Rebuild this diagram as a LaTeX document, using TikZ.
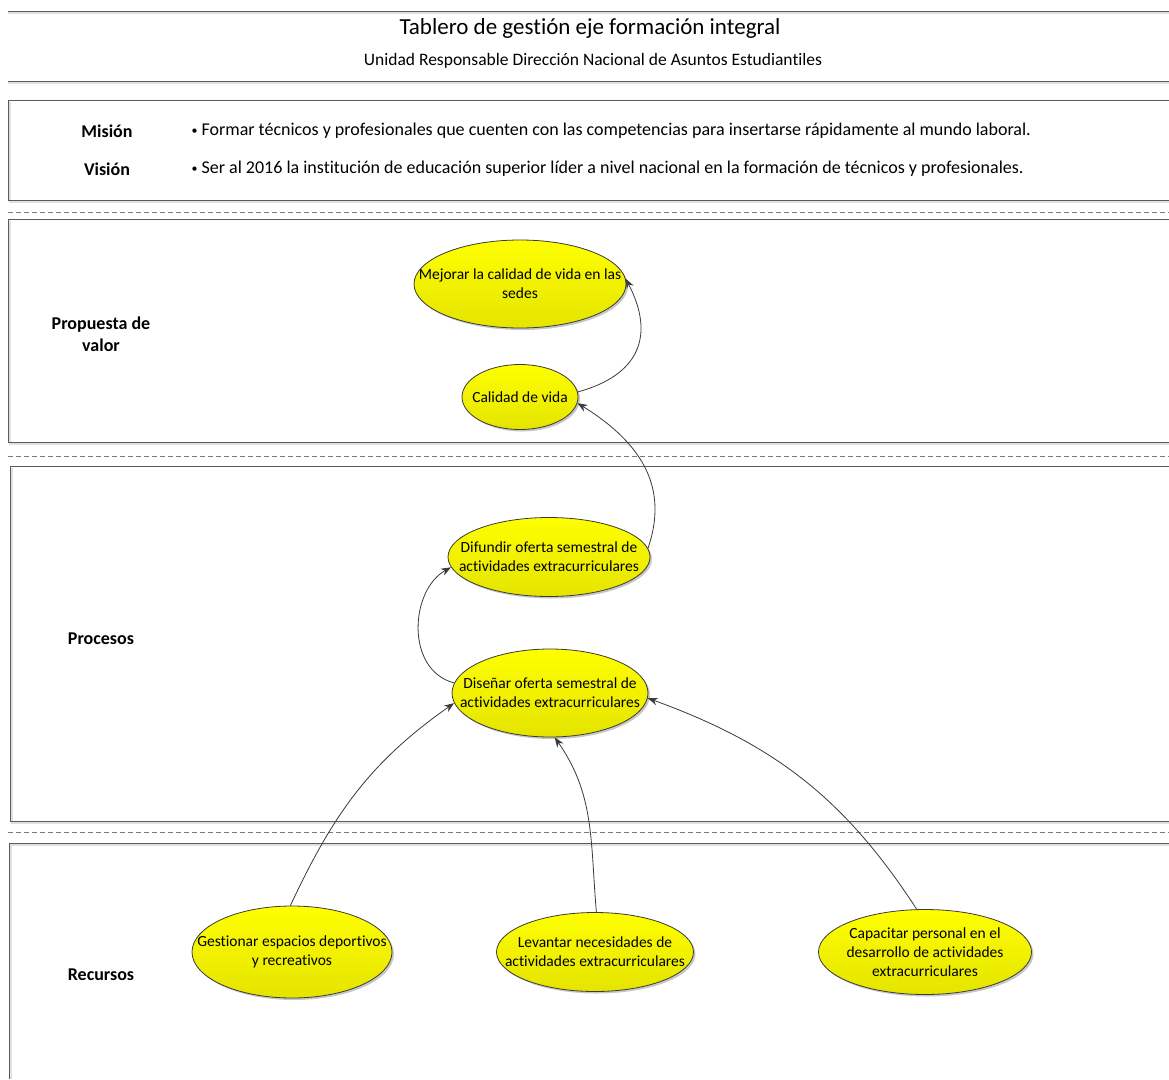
\documentclass[tikz,border=0pt]{standalone}
\usepackage{fontspec}
\setmainfont{Carlito}[Ligatures={NoCommon}]
\usetikzlibrary{shapes.geometric,arrows.meta,shadows}
\definecolor{rule}{HTML}{5A5A5A}
\definecolor{ink}{HTML}{3A3A3A}
\definecolor{ovaltop}{HTML}{FFFF00}
\definecolor{ovalbot}{HTML}{E4E400}
\newcommand{\smallbullet}{{\fontsize{12}{12}\selectfont\raisebox{1pt}{•}}}
\tikzset{
  oval/.style={ellipse, draw=ink, line width=0.8pt, top color=ovaltop, bottom color=ovalbot,
    inner sep=0pt,
    drop shadow={shadow xshift=2pt, shadow yshift=-2pt, opacity=0.22, fill=black}},
  ovaltext/.style={align=center, inner sep=0pt, font=\fontsize{15.5}{19}\selectfont},
  lane/.style={draw=rule, line width=1pt},
  lanebg/.style={draw=black!12, line width=1.2pt},
  sep/.style={draw=rule!80, line width=1pt, dash pattern=on 5pt off 3pt},
  flow/.style={draw=ink, line width=0.8pt, -{Stealth[length=10pt,width=7.5pt]}},
  tag/.style={font=\fontsize{18}{22}\selectfont\bfseries, align=center},
  line/.style={font=\fontsize{18}{22}\selectfont, anchor=west}
}
\begin{document}
\begin{tikzpicture}[x=1pt,y=-1pt]
\useasboundingbox (0,0) rectangle (1169,1079);
\fill[white] (0,0) rectangle (1169,1079);

% header rules and titles
\draw[lanebg] (8,13) -- (1169,13);
\draw[lane] (8,11) -- (1169,11);
\draw[lanebg] (8,83) -- (1169,83);
\draw[lane] (8,81) -- (1169,81);
\node[font=\fontsize{23}{26}\selectfont] (title) at (590,28) {Tablero de gestión eje formación integral};
\node[font=\fontsize{17.5}{20}\selectfont] (subtitle) at (593,61) {Unidad Responsable Dirección Nacional de Asuntos Estudiantiles};

% mission / vision band
\draw[lanebg] (1169,202) -- (10,202) -- (10,102);
\draw[lane] (1169,100) -- (8,100) -- (8,200) -- (1169,200);
\node[tag] (mision) at (107,131) {Misión};
\node[tag] (vision) at (107,169) {Visión};
\node[line] (mtext) at (188,131) {\smallbullet\ Formar técnicos y profesionales que cuenten con las competencias para insertarse rápidamente al mundo laboral.};
\node[line] (vtext) at (188,169) {\smallbullet\ Ser al 2016 la institución de educación superior líder a nivel nacional en la formación de técnicos y profesionales.};

\draw[sep] (8,212) -- (1169,212);

% value proposition band
\draw[lanebg] (1169,444) -- (10,444) -- (10,221);
\draw[lane] (1169,219) -- (8,219) -- (8,442) -- (1169,442);
\node[tag] (valor) at (101,334) {Propuesta de\\valor};

\draw[sep] (8,456) -- (1169,456);

% processes band
\draw[lanebg] (1169,823) -- (12,823) -- (12,468);
\draw[lane] (1169,466) -- (10,466) -- (10,821) -- (1169,821);
\node[tag] (procesos) at (101,639) {Procesos};

\draw[sep] (8,832) -- (1169,832);

% resources band
\draw[lanebg] (1169,845) -- (11,845) -- (11,1079);
\draw[lane] (1169,843) -- (9,843) -- (9,1079);
\node[tag] (recursos) at (101,975) {Recursos};

% objectives: ellipse outlines
\node[oval, minimum width=212pt, minimum height=88pt] (mejorar) at (520,284) {};
\node[oval, minimum width=116pt, minimum height=65pt] (calidad) at (520,397) {};
\node[oval, minimum width=202pt, minimum height=79pt] (difundir) at (549,557) {};
\node[oval, minimum width=196pt, minimum height=88pt] (disenar) at (550,693) {};
\node[oval, minimum width=200pt, minimum height=92pt] (gestionar) at (292,952) {};
\node[oval, minimum width=197pt, minimum height=79pt] (levantar) at (595,952) {};
\node[oval, minimum width=213pt, minimum height=85pt] (capacitar) at (925,952) {};

% objectives: captions
\node[ovaltext] (mejorar-t) at (mejorar.center) {Mejorar la calidad de vida en las\\sedes};
\node[ovaltext] (calidad-t) at (calidad.center) {Calidad de vida};
\node[ovaltext] (difundir-t) at (difundir.center) {Difundir oferta semestral de\\actividades extracurriculares};
\node[ovaltext] (disenar-t) at (disenar.center) {Diseñar oferta semestral de\\actividades extracurriculares};
\node[ovaltext] (gestionar-t) at (gestionar.center) {Gestionar espacios deportivos\\y recreativos};
\node[ovaltext] (levantar-t) at (levantar.center) {Levantar necesidades de\\actividades extracurriculares};
\node[ovaltext] (capacitar-t) at (capacitar.center) {Capacitar personal en el\\desarrollo de actividades\\extracurriculares};

% cause-effect links
\draw[flow] (calidad.5) .. controls (640,375) and (655,335) .. (mejorar.3);
\draw[flow] (difundir.5) .. controls (668,490) and (645,445) .. (calidad.-6);
\draw[flow] (disenar.174) .. controls (405,670) and (410,590) .. (difundir.186);
\draw[flow] (gestionar.92) to[out=65,in=215] (disenar.186);
\draw[flow] (levantar.88) to[out=95,in=-55] (disenar.-84);
\draw[flow] (capacitar.101) to[out=123,in=-20] (disenar.-3);
\end{tikzpicture}
\end{document}
